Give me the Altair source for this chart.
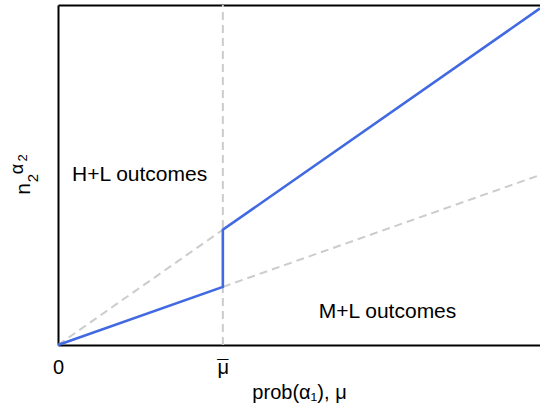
import altair as alt
import pandas as pd

MU_BAR = 0.342

# blue piecewise line
blue_x = [0.0, MU_BAR, MU_BAR, 1.0]
blue_y = [0.0, 0.171, 0.339, 0.99]

# grey dashed guide lines
upper_x = [0.0, MU_BAR]
upper_y = [0.0, 0.339]
lower_x = [MU_BAR, 1.0]
lower_y = [0.171, 0.5]
vert_x = [MU_BAR, MU_BAR]
vert_y = [0.0, 1.0]

# region labels
label_text = ["H+L outcomes", "M+L outcomes"]
label_x = [0.029, 0.541]
label_y = [0.5, 0.097]

tick_values = [0.0, MU_BAR]

FONT = "Liberation Sans"
BLUE = "#4169e1"
GREY = "#cccccc"

xs = alt.Scale(domain=[0, 1], nice=False, zero=False)
ys = alt.Scale(domain=[0, 1], nice=False, zero=False)

blue_df = pd.DataFrame({"x": blue_x, "y": blue_y, "o": range(len(blue_x))})
guides_df = pd.DataFrame({
    "x": upper_x + lower_x + vert_x,
    "y": upper_y + lower_y + vert_y,
    "g": ["u"] * 2 + ["l"] * 2 + ["v"] * 2,
    "o": list(range(6)),
})
labels_df = pd.DataFrame({"t": label_text, "x": label_x, "y": label_y})

x_axis = alt.Axis(
    values=tick_values,
    labelExpr="datum.value == 0 ? '0' : 'μ'",
    ticks=False, tickSize=0, grid=False, labelFlush=False,
    labelFontSize=20, labelFont=FONT, labelColor="black", labelPadding=12,
    title="prob(α₁), μ", titleFont=FONT, titleFontSize=20,
    titleFontWeight="normal", titleColor="black", titlePadding=5,
    domainColor="black", domainWidth=2,
)
y_axis = alt.Axis(
    labels=False, ticks=False, grid=False, title=None,
    domainColor="black", domainWidth=2,
)
top_axis = alt.Axis(
    orient="top", labels=False, ticks=False, grid=False, title=None,
    domainColor="black", domainWidth=2,
)

guides = alt.Chart(guides_df).mark_line(
    color=GREY, strokeWidth=2, strokeDash=[8, 5]
).encode(
    x=alt.X("x:Q", scale=xs, axis=x_axis),
    y=alt.Y("y:Q", scale=ys, axis=y_axis),
    detail="g:N",
    order="o:Q",
)

blue = alt.Chart(blue_df).mark_line(color=BLUE, strokeWidth=2.6).encode(
    x=alt.X("x:Q", scale=xs, axis=top_axis),
    y=alt.Y("y:Q", scale=ys, axis=y_axis),
    order="o:Q",
)

labels = alt.Chart(labels_df).mark_text(
    font=FONT, fontSize=21, align="left", baseline="middle", color="black"
).encode(
    x=alt.X("x:Q", scale=xs, axis=None),
    y=alt.Y("y:Q", scale=ys, axis=y_axis),
    text="t:N",
)

# overline of the mu-bar tick label
bar_df = pd.DataFrame({"t": ["¯"], "x": [MU_BAR]})
mu_bar = alt.Chart(bar_df).mark_text(
    font=FONT, fontSize=20, align="center", baseline="middle", color="black"
).encode(
    x=alt.X("x:Q", scale=xs, axis=None),
    y=alt.value(363),
    text="t:N",
)

def ypart(txt, size, px, py):
    return alt.Chart(pd.DataFrame({"t": [txt]})).mark_text(
        font=FONT, fontSize=size, angle=270, align="center",
        baseline="alphabetic", color="black"
    ).encode(x=alt.value(px), y=alt.value(py), text="t:N")

yt_n = ypart("n", 21, -28, 184)
yt_2 = ypart("2", 15, -20, 173)
yt_a = ypart("α", 18, -35, 164)
yt_a2 = ypart("2", 13, -31, 153)

chart = alt.layer(guides, blue, labels, mu_bar, yt_n, yt_2, yt_a, yt_a2).resolve_axis(
    x="independent"
).properties(
    width=482, height=340,
    autosize=alt.AutoSizeParams(type="none"),
    padding={"left": 58, "top": 5, "right": 0, "bottom": 68},
).configure_view(stroke=None)

chart.save("out.html", embed_options={"renderer": "svg", "actions": False})
